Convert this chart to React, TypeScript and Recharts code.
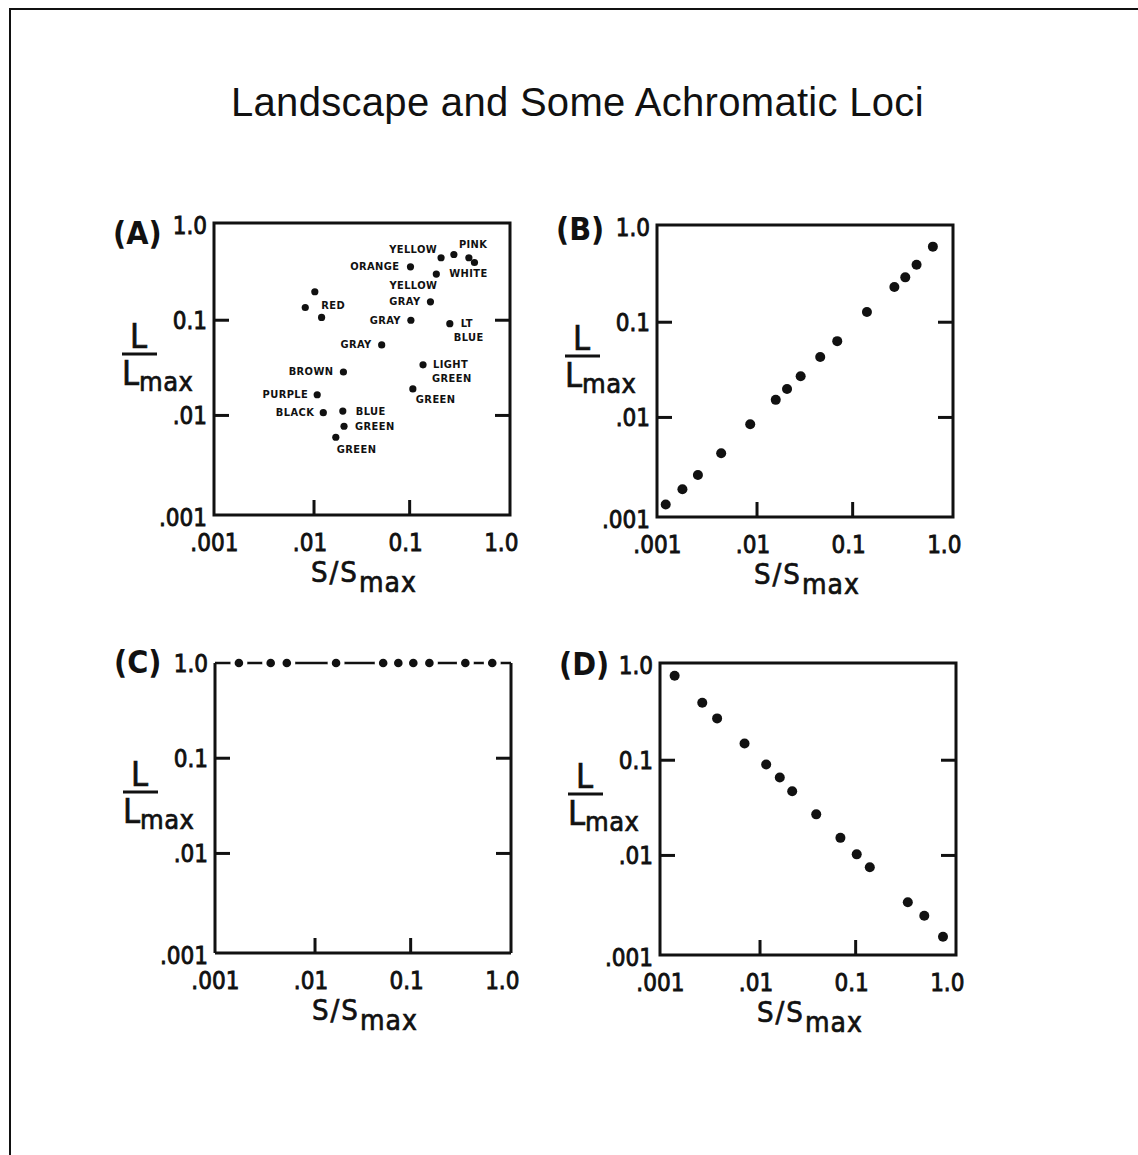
import React from "react"
import { ScatterChart, Scatter, XAxis, YAxis, ReferenceArea, ReferenceLine } from "recharts"

const title = "Landscape and Some Achromatic Loci"
const tickValues = [0.001, 0.01, 0.1, 1]
const tickLabels = [".001", ".01", "0.1", "1.0"]
const xTitle = ["S/S", "max"]
const yTitle = ["L", "L", "max"]

// (A) landscape of named surfaces
const aNames = [
  "YELLOW", "PINK", "", "WHITE", "ORANGE", "YELLOW", "GRAY", "GRAY", "GRAY", "LT\nBLUE", "LIGHT\nGREEN",
  "GREEN", "", "RED", "", "BROWN", "PURPLE", "BLACK", "BLUE", "GREEN", "GREEN",
]
const aS = [0.213, 0.29, 0.416, 0.476, 0.102, 0.19, 0.165, 0.103, 0.051, 0.263, 0.138, 0.108, 0.0102, 0.0081, 0.012, 0.0203, 0.0108, 0.0125, 0.02, 0.0206, 0.0169]
const aL = [0.453, 0.49, 0.453, 0.404, 0.364, 0.305, 0.156, 0.1, 0.055, 0.092, 0.034, 0.019, 0.199, 0.136, 0.107, 0.0286, 0.0165, 0.0107, 0.0111, 0.0077, 0.0059]

// (B) rising locus
const bS = [0.00111, 0.00166, 0.00241, 0.00422, 0.00849, 0.0157, 0.0206, 0.0286, 0.0458, 0.069, 0.141, 0.273, 0.355, 0.466, 0.69]
const bL = [0.00122, 0.00176, 0.00249, 0.00421, 0.00849, 0.0153, 0.0199, 0.0271, 0.0431, 0.0633, 0.128, 0.234, 0.296, 0.401, 0.622]

// (C) flat locus
const cS = [0.0016, 0.00344, 0.00507, 0.0166, 0.0516, 0.0743, 0.1066, 0.157, 0.373, 0.713]
const cL = [1, 1, 1, 1, 1, 1, 1, 1, 1, 1]

// (D) falling locus
const dS = [0.00128, 0.00249, 0.00356, 0.00689, 0.0116, 0.0161, 0.0217, 0.0387, 0.0693, 0.1026, 0.1406, 0.351, 0.522, 0.819]
const dL = [0.773, 0.402, 0.275, 0.15, 0.09, 0.0658, 0.0472, 0.027, 0.0153, 0.01026, 0.00753, 0.00323, 0.00233, 0.0014]

// where each label of (A) sits around its dot: anchor, dx, dy, dx of 2nd line
const aPlace: [string, number, number, number][] = [
  ["end", 1, -8, 0], ["start", 0, -10, 0], ["start", 0, 0, 0], ["middle", -6, 11, 0],
  ["end", -6, 0, 0], ["end", 6, 11, 0], ["end", -5, 0, 0], ["end", -5, 0, 0], ["end", -5, 0, 0],
  ["start", 6, 0, -1], ["start", 5, 0, 4], ["start", -2, 11, 0],
  ["start", 0, 0, 0], ["start", 11, -2, 0], ["start", 0, 0, 0],
  ["end", -5, 0, 0], ["end", -4, 0, 0], ["end", -4, 0, 0], ["start", 8, 0, 0], ["start", 6, 0, 0], ["start", -4, 12, 0],
]

const toRows = (s: number[], l: number[], names?: string[]) =>
  s.map((v, i) => ({ s: v, l: l[i], name: names ? names[i] : "", i }))

const INK = "#111"
const CONDENSED = "'DejaVu Sans Condensed', 'DejaVu Sans', sans-serif"
const PW = 296
const PH = 292
const YW = 112
const MT = 30
const MR = 24
const XH = 100
const xDomain = [0.0009, 1.12]
const yDomain = [0.0009, 1.05]

function XTick(props: any) {
  const { x, y, payload } = props
  const v = payload.value
  const idx = tickValues.indexOf(v)
  const inner = v > 0.001 && v < 1
  return (
    <g>
      {inner && <line x1={x} x2={x} y1={y} y2={y - 15} stroke={INK} strokeWidth={3} />}
      <text x={x - 4} y={y + 36} textAnchor="middle" fontFamily={CONDENSED} fontSize={24} fill={INK} stroke={INK} strokeWidth={0.8}>
        {tickLabels[idx]}
      </text>
    </g>
  )
}

function YTick(props: any) {
  const { x, y, payload } = props
  const v = payload.value
  const idx = tickValues.indexOf(v)
  const inner = v > 0.001 && v < 1
  return (
    <g>
      {inner && <line x1={x} x2={x + 15} y1={y} y2={y} stroke={INK} strokeWidth={3} />}
      {inner && <line x1={x + PW - 15} x2={x + PW} y1={y} y2={y} stroke={INK} strokeWidth={3} />}
      <text x={x - 7} y={y + 9 + (v === 0.001 ? 6 : 0)} textAnchor="end" fontFamily={CONDENSED} fontSize={24} fill={INK} stroke={INK} strokeWidth={0.8}>
        {tickLabels[idx]}
      </text>
    </g>
  )
}

function XTitle() {
  return (
    <text x={YW + 97} y={MT + PH + 67} fontFamily={CONDENSED} fontSize={29} letterSpacing={2} fill={INK} stroke={INK} strokeWidth={0.7}>
      {xTitle[0]}
      <tspan dy={10} fontSize={28} letterSpacing={1}>{xTitle[1]}</tspan>
    </text>
  )
}

function YTitle({ letter, letterDy }: { letter: string; letterDy: number }) {
  const t = { fontFamily: CONDENSED, fill: INK, stroke: INK, strokeWidth: 0.7 }
  return (
    <g>
      <text x={YW - 101} y={MT + letterDy} fontFamily={CONDENSED} fontWeight="bold" fontSize={32} fill={INK}>
        {letter}
      </text>
      <text x={YW - 84} y={MT + 125} fontSize={34} {...t}>{yTitle[0]}</text>
      <line x1={YW - 92} x2={YW - 57} y1={MT + 131} y2={MT + 131} stroke={INK} strokeWidth={3} />
      <text x={YW - 92} y={MT + 162} fontSize={34} {...t}>
        {yTitle[1]}
        <tspan dy={6} fontSize={27} letterSpacing={0.5}>{yTitle[2]}</tspan>
      </text>
    </g>
  )
}

function LabeledDot(props: any) {
  const { cx, cy, payload } = props
  const [anchor, dx, dy, dx2] = aPlace[payload.i]
  const lines = payload.name ? payload.name.split("\n") : []
  return (
    <g>
      <circle cx={cx} cy={cy} r={3.6} fill={INK} />
      {lines.map((t: string, k: number) => (
        <text
          key={k}
          x={cx + (anchor === "end" ? -5 : anchor === "start" ? 5 : 0) + (k === 0 ? dx : dx2)}
          y={cy + dy + k * 14}
          textAnchor={anchor as any}
          dominantBaseline="central"
          fontFamily={CONDENSED}
          fontWeight="bold"
          fontSize={11}
          letterSpacing={0.4}
          fill={INK}
        >
          {t}
        </text>
      ))}
    </g>
  )
}

const BigDot = (props: any) => <circle cx={props.cx} cy={props.cy} r={5} fill={INK} />

const HaloDot = (props: any) => (
  <g>
    <circle cx={props.cx} cy={props.cy} r={8.5} fill="#fff" />
    <circle cx={props.cx} cy={props.cy} r={4.3} fill={INK} />
  </g>
)

function Panel({ left, top, letter, letterDy, data, shape, open }: any) {
  return (
    <div style={{ position: "absolute", left: left - YW, top: top - MT }}>
      <ScatterChart width={YW + PW + MR} height={MT + PH + XH} margin={{ top: MT, right: MR, bottom: 0, left: 0 }}>
        <XAxis
          type="number"
          dataKey="s"
          scale="log"
          domain={xDomain}
          ticks={tickValues}
          interval={0}
          tick={<XTick />}
          tickLine={false}
          axisLine={false}
          tickSize={0}
          tickMargin={0}
          height={XH}
          label={<XTitle />}
        />
        <YAxis
          type="number"
          dataKey="l"
          scale="log"
          domain={yDomain}
          ticks={tickValues}
          interval={0}
          tick={<YTick />}
          tickLine={false}
          axisLine={false}
          tickSize={0}
          tickMargin={0}
          width={YW}
          label={<YTitle letter={letter} letterDy={letterDy} />}
        />
        {open ? (
          <>
            <ReferenceLine segment={[{ x: xDomain[0], y: yDomain[0] }, { x: xDomain[0], y: 1 }]} stroke={INK} strokeWidth={3} ifOverflow="visible" />
            <ReferenceLine segment={[{ x: xDomain[1], y: yDomain[0] }, { x: xDomain[1], y: 1 }]} stroke={INK} strokeWidth={3} ifOverflow="visible" />
            <ReferenceLine y={yDomain[0]} stroke={INK} strokeWidth={3} ifOverflow="visible" />
            <ReferenceLine y={1} stroke={INK} strokeWidth={2.5} ifOverflow="visible" />
          </>
        ) : (
          <ReferenceArea
            x1={xDomain[0]}
            x2={xDomain[1]}
            y1={yDomain[0]}
            y2={yDomain[1]}
            fill="none"
            fillOpacity={0}
            stroke={INK}
            strokeWidth={3}
            ifOverflow="visible"
          />
        )}
        <Scatter data={data} shape={shape} isAnimationActive={false} />
      </ScatterChart>
    </div>
  )
}

export default function App() {
  return (
    <div style={{ position: "absolute", left: 0, top: 0, width: 1138, height: 1155, background: "#fff", overflow: "hidden" }}>
      <div
        style={{
          position: "absolute",
          left: 9,
          top: 8,
          width: 1140,
          height: 1160,
          borderTop: `2px solid ${INK}`,
          borderLeft: `2px solid ${INK}`,
        }}
      />
      <div
        style={{
          position: "absolute",
          left: 231,
          top: 82,
          fontFamily: "'Liberation Sans', Arial, sans-serif",
          fontSize: 40,
          letterSpacing: 0.3,
          lineHeight: "40px",
          color: INK,
          whiteSpace: "nowrap",
        }}
      >
        {title}
      </div>
      <Panel left={214} top={223} letter="(A)" letterDy={21} data={toRows(aS, aL, aNames)} shape={LabeledDot} />
      <Panel left={657} top={225} letter="(B)" letterDy={15} data={toRows(bS, bL)} shape={BigDot} />
      <Panel left={215} top={661} letter="(C)" letterDy={12} data={toRows(cS, cL)} shape={HaloDot} open />
      <Panel left={660} top={663} letter="(D)" letterDy={12} data={toRows(dS, dL)} shape={BigDot} />
    </div>
  )
}
